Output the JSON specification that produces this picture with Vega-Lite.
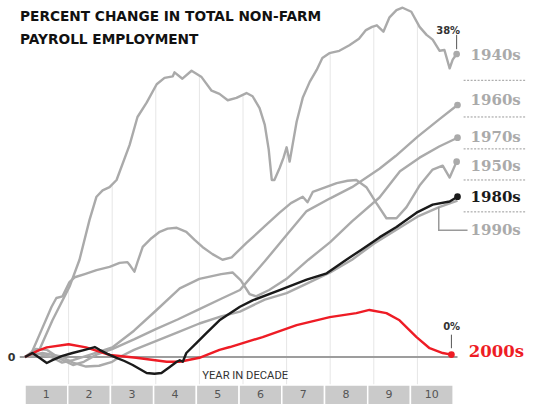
{
"$schema": "https://vega.github.io/schema/vega-lite/v6.json",
"width": 436, "height": 404,
"autosize": {"type": "none"},
"padding": {"left": 25, "right": 72, "top": 0, "bottom": 0},
"background": "white",
"config": {"view": {"stroke": null}},
"title": {"text": ["PERCENT CHANGE IN TOTAL NON-FARM", "PAYROLL EMPLOYMENT"], "anchor": "start", "frame": "group", "orient": "top", "baseline": "alphabetic", "offset": -57.5, "dx": -5, "lineHeight": 22.5, "font": "DejaVu Sans", "fontSize": 13.7, "fontWeight": "bold", "color": "#111111"},
"datasets": {
"lines": [
{"d":"1940s","t":0,"v":0},{"d":"1940s","t":0.33,"v":0.9},{"d":"1940s","t":0.63,"v":4.6},{"d":"1940s","t":1.02,"v":8.8},{"d":"1940s","t":1.25,"v":12.2},{"d":"1940s","t":1.48,"v":17.2},{"d":"1940s","t":1.64,"v":20.1},{"d":"1940s","t":1.78,"v":20.9},{"d":"1940s","t":1.94,"v":21.3},{"d":"1940s","t":2.1,"v":22.2},{"d":"1940s","t":2.4,"v":26.6},{"d":"1940s","t":2.58,"v":30.1},{"d":"1940s","t":2.79,"v":31.9},{"d":"1940s","t":3.02,"v":34.2},{"d":"1940s","t":3.2,"v":35.0},{"d":"1940s","t":3.39,"v":35.2},{"d":"1940s","t":3.43,"v":35.7},{"d":"1940s","t":3.61,"v":34.9},{"d":"1940s","t":3.82,"v":35.9},{"d":"1940s","t":4.05,"v":35.1},{"d":"1940s","t":4.28,"v":33.4},{"d":"1940s","t":4.46,"v":33.0},{"d":"1940s","t":4.65,"v":32.2},{"d":"1940s","t":4.85,"v":32.5},{"d":"1940s","t":5.08,"v":33.1},{"d":"1940s","t":5.22,"v":32.7},{"d":"1940s","t":5.38,"v":31.2},{"d":"1940s","t":5.5,"v":29.1},{"d":"1940s","t":5.59,"v":26.0},{"d":"1940s","t":5.66,"v":22.2},{"d":"1940s","t":5.72,"v":22.2},{"d":"1940s","t":5.84,"v":23.7},{"d":"1940s","t":5.93,"v":25.0},{"d":"1940s","t":6.0,"v":26.3},{"d":"1940s","t":6.07,"v":24.5},{"d":"1940s","t":6.23,"v":29.5},{"d":"1940s","t":6.37,"v":32.5},{"d":"1940s","t":6.53,"v":34.5},{"d":"1940s","t":6.69,"v":36.0},{"d":"1940s","t":6.82,"v":37.5},{"d":"1940s","t":6.98,"v":38.1},{"d":"1940s","t":7.21,"v":38.4},{"d":"1940s","t":7.44,"v":39.1},{"d":"1940s","t":7.66,"v":39.9},{"d":"1940s","t":7.82,"v":41.0},{"d":"1940s","t":7.96,"v":41.4},{"d":"1940s","t":8.07,"v":41.6},{"d":"1940s","t":8.22,"v":40.8},{"d":"1940s","t":8.36,"v":42.6},{"d":"1940s","t":8.52,"v":43.5},{"d":"1940s","t":8.66,"v":43.8},{"d":"1940s","t":8.86,"v":43.3},{"d":"1940s","t":9.05,"v":41.4},{"d":"1940s","t":9.21,"v":40.4},{"d":"1940s","t":9.35,"v":39.8},{"d":"1940s","t":9.51,"v":38.4},{"d":"1940s","t":9.62,"v":38.5},{"d":"1940s","t":9.74,"v":36.2},{"d":"1940s","t":9.81,"v":37.3},{"d":"1940s","t":9.9,"v":38.0},
{"d":"1950s","t":0,"v":0},{"d":"1950s","t":0.15,"v":0.5},{"d":"1950s","t":0.38,"v":3.4},{"d":"1950s","t":0.61,"v":6.3},{"d":"1950s","t":0.72,"v":7.4},{"d":"1950s","t":0.86,"v":7.6},{"d":"1950s","t":1.02,"v":9.4},{"d":"1950s","t":1.14,"v":10.0},{"d":"1950s","t":1.37,"v":10.4},{"d":"1950s","t":1.64,"v":10.9},{"d":"1950s","t":1.94,"v":11.3},{"d":"1950s","t":2.17,"v":11.8},{"d":"1950s","t":2.35,"v":11.9},{"d":"1950s","t":2.42,"v":11.4},{"d":"1950s","t":2.51,"v":10.7},{"d":"1950s","t":2.58,"v":11.9},{"d":"1950s","t":2.7,"v":13.8},{"d":"1950s","t":2.9,"v":14.9},{"d":"1950s","t":3.09,"v":15.7},{"d":"1950s","t":3.27,"v":16.1},{"d":"1950s","t":3.48,"v":16.2},{"d":"1950s","t":3.7,"v":15.7},{"d":"1950s","t":3.89,"v":14.7},{"d":"1950s","t":4.07,"v":13.8},{"d":"1950s","t":4.3,"v":12.9},{"d":"1950s","t":4.53,"v":12.2},{"d":"1950s","t":4.74,"v":12.5},{"d":"1950s","t":5.08,"v":14.3},{"d":"1950s","t":5.5,"v":16.4},{"d":"1950s","t":5.84,"v":18.1},{"d":"1950s","t":6.1,"v":19.3},{"d":"1950s","t":6.37,"v":20.1},{"d":"1950s","t":6.48,"v":19.4},{"d":"1950s","t":6.6,"v":20.7},{"d":"1950s","t":6.9,"v":21.3},{"d":"1950s","t":7.15,"v":21.8},{"d":"1950s","t":7.4,"v":22.1},{"d":"1950s","t":7.6,"v":22.2},{"d":"1950s","t":7.83,"v":21.3},{"d":"1950s","t":8.06,"v":19.3},{"d":"1950s","t":8.29,"v":17.4},{"d":"1950s","t":8.52,"v":17.4},{"d":"1950s","t":8.75,"v":18.8},{"d":"1950s","t":9.05,"v":21.5},{"d":"1950s","t":9.35,"v":23.5},{"d":"1950s","t":9.58,"v":24.0},{"d":"1950s","t":9.74,"v":22.5},{"d":"1950s","t":9.9,"v":24.5},
{"d":"1960s","t":0,"v":0},{"d":"1960s","t":0.25,"v":1.0},{"d":"1960s","t":0.5,"v":0.9},{"d":"1960s","t":0.8,"v":-0.2},{"d":"1960s","t":1.1,"v":-1.0},{"d":"1960s","t":1.35,"v":-0.6},{"d":"1960s","t":1.64,"v":0.3},{"d":"1960s","t":2.0,"v":1.0},{"d":"1960s","t":2.5,"v":2.2},{"d":"1960s","t":3.0,"v":3.5},{"d":"1960s","t":3.5,"v":4.7},{"d":"1960s","t":4.0,"v":6.0},{"d":"1960s","t":4.5,"v":7.3},{"d":"1960s","t":4.93,"v":8.4},{"d":"1960s","t":5.15,"v":9.8},{"d":"1960s","t":5.5,"v":12.0},{"d":"1960s","t":6.0,"v":15.3},{"d":"1960s","t":6.46,"v":18.3},{"d":"1960s","t":7.0,"v":19.9},{"d":"1960s","t":7.5,"v":21.3},{"d":"1960s","t":8.13,"v":23.6},{"d":"1960s","t":8.5,"v":25.2},{"d":"1960s","t":9.0,"v":27.6},{"d":"1960s","t":9.5,"v":29.8},{"d":"1960s","t":9.92,"v":31.6},
{"d":"1970s","t":0,"v":0},{"d":"1970s","t":0.3,"v":0.4},{"d":"1970s","t":0.6,"v":0.0},{"d":"1970s","t":0.85,"v":-0.7},{"d":"1970s","t":1.1,"v":-0.4},{"d":"1970s","t":1.5,"v":0.3},{"d":"1970s","t":2.0,"v":1.2},{"d":"1970s","t":2.5,"v":3.3},{"d":"1970s","t":3.0,"v":5.8},{"d":"1970s","t":3.55,"v":8.6},{"d":"1970s","t":4.0,"v":9.8},{"d":"1970s","t":4.5,"v":10.4},{"d":"1970s","t":4.76,"v":10.6},{"d":"1970s","t":4.95,"v":9.6},{"d":"1970s","t":5.15,"v":7.9},{"d":"1970s","t":5.3,"v":7.6},{"d":"1970s","t":5.6,"v":8.4},{"d":"1970s","t":6.0,"v":9.8},{"d":"1970s","t":6.5,"v":12.2},{"d":"1970s","t":7.0,"v":14.4},{"d":"1970s","t":7.5,"v":17.0},{"d":"1970s","t":8.13,"v":20.0},{"d":"1970s","t":8.6,"v":23.3},{"d":"1970s","t":9.05,"v":25.0},{"d":"1970s","t":9.5,"v":26.4},{"d":"1970s","t":9.92,"v":27.5},
{"d":"1990s","t":0,"v":0},{"d":"1990s","t":0.4,"v":0.5},{"d":"1990s","t":0.8,"v":0.1},{"d":"1990s","t":1.1,"v":-0.7},{"d":"1990s","t":1.4,"v":-1.2},{"d":"1990s","t":1.7,"v":-1.1},{"d":"1990s","t":2.0,"v":-0.6},{"d":"1990s","t":2.17,"v":0.0},{"d":"1990s","t":2.5,"v":0.9},{"d":"1990s","t":3.0,"v":2.0},{"d":"1990s","t":3.5,"v":3.1},{"d":"1990s","t":4.0,"v":4.2},{"d":"1990s","t":4.5,"v":5.1},{"d":"1990s","t":4.93,"v":5.7},{"d":"1990s","t":5.5,"v":7.2},{"d":"1990s","t":6.0,"v":8.0},{"d":"1990s","t":6.5,"v":9.3},{"d":"1990s","t":7.0,"v":10.6},{"d":"1990s","t":7.5,"v":12.2},{"d":"1990s","t":8.0,"v":14.2},{"d":"1990s","t":8.5,"v":15.9},{"d":"1990s","t":9.0,"v":17.6},{"d":"1990s","t":9.5,"v":18.8},{"d":"1990s","t":9.92,"v":19.6},
{"d":"2000s","t":0,"v":0},{"d":"2000s","t":0.3,"v":0.8},{"d":"2000s","t":0.5,"v":1.2},{"d":"2000s","t":1.0,"v":1.6},{"d":"2000s","t":1.4,"v":1.2},{"d":"2000s","t":1.95,"v":0.25},{"d":"2000s","t":2.55,"v":-0.1},{"d":"2000s","t":3.25,"v":-0.6},{"d":"2000s","t":3.55,"v":-0.6},{"d":"2000s","t":4.0,"v":-0.1},{"d":"2000s","t":4.46,"v":0.9},{"d":"2000s","t":4.7,"v":1.25},{"d":"2000s","t":5.45,"v":2.5},{"d":"2000s","t":6.23,"v":4.0},{"d":"2000s","t":6.99,"v":5.0},{"d":"2000s","t":7.6,"v":5.5},{"d":"2000s","t":7.9,"v":5.9},{"d":"2000s","t":8.29,"v":5.5},{"d":"2000s","t":8.59,"v":4.6},{"d":"2000s","t":8.98,"v":2.5},{"d":"2000s","t":9.28,"v":1.1},{"d":"2000s","t":9.58,"v":0.5},{"d":"2000s","t":9.78,"v":0.3},
{"d":"1980s","t":0,"v":0},{"d":"1980s","t":0.17,"v":0.5},{"d":"1980s","t":0.33,"v":-0.1},{"d":"1980s","t":0.5,"v":-0.75},{"d":"1980s","t":0.63,"v":-0.4},{"d":"1980s","t":0.84,"v":0.1},{"d":"1980s","t":1.09,"v":0.5},{"d":"1980s","t":1.37,"v":0.9},{"d":"1980s","t":1.6,"v":1.25},{"d":"1980s","t":1.71,"v":0.9},{"d":"1980s","t":1.89,"v":0.4},{"d":"1980s","t":2.1,"v":-0.1},{"d":"1980s","t":2.28,"v":-0.5},{"d":"1980s","t":2.47,"v":-1.0},{"d":"1980s","t":2.63,"v":-1.5},{"d":"1980s","t":2.79,"v":-2.0},{"d":"1980s","t":2.97,"v":-2.1},{"d":"1980s","t":3.13,"v":-2.0},{"d":"1980s","t":3.32,"v":-1.25},{"d":"1980s","t":3.48,"v":-0.6},{"d":"1980s","t":3.55,"v":-0.4},{"d":"1980s","t":3.62,"v":-0.6},{"d":"1980s","t":3.7,"v":0.5},{"d":"1980s","t":3.93,"v":1.75},{"d":"1980s","t":4.16,"v":3.0},{"d":"1980s","t":4.46,"v":4.6},{"d":"1980s","t":4.93,"v":6.3},{"d":"1980s","t":5.22,"v":7.1},{"d":"1980s","t":5.84,"v":8.4},{"d":"1980s","t":6.46,"v":9.7},{"d":"1980s","t":6.92,"v":10.5},{"d":"1980s","t":7.37,"v":12.2},{"d":"1980s","t":7.7,"v":13.4},{"d":"1980s","t":8.13,"v":15.0},{"d":"1980s","t":8.52,"v":16.3},{"d":"1980s","t":8.98,"v":18.1},{"d":"1980s","t":9.35,"v":19.1},{"d":"1980s","t":9.74,"v":19.5},{"d":"1980s","t":9.92,"v":20.1}
],
"ends": [
{"d":"1940s","t":9.9,"v":38.0},{"d":"1950s","t":9.9,"v":24.5},{"d":"1960s","t":9.92,"v":31.6},{"d":"1970s","t":9.92,"v":27.5},{"d":"1980s","t":9.92,"v":20.1},{"d":"2000s","t":9.78,"v":0.3}
],
"labels": [
{"d":"1940s","t":10.22,"v":37.9,"s":15},{"d":"1960s","t":10.22,"v":32.2,"s":15},{"d":"1970s","t":10.22,"v":27.6,"s":15},{"d":"1950s","t":10.22,"v":24.0,"s":15},{"d":"1980s","t":10.22,"v":20.1,"s":15},{"d":"1990s","t":10.22,"v":15.9,"s":15},{"d":"2000s","t":10.18,"v":0.6,"s":16.5}
],
"seps": [
{"t":10.06,"t2":11.48,"v":34.7},{"t":10.06,"t2":11.48,"v":30.1},{"t":10.06,"t2":11.48,"v":26.1},{"t":10.06,"t2":11.48,"v":22.2},{"t":10.06,"t2":11.48,"v":18.2}
],
"grid": [
{"t":1,"v":-3.5,"v2":9.3},{"t":2,"v":-3.5,"v2":21.6},{"t":3,"v":-3.5,"v2":34.0},{"t":4,"v":-3.5,"v2":35.3},{"t":5,"v":-3.5,"v2":32.9},{"t":6,"v":-3.5,"v2":25.5},{"t":7,"v":-3.5,"v2":38.1},{"t":8,"v":-3.5,"v2":41.5},{"t":9,"v":-3.5,"v2":41.6}
],
"zero": [{"t":-0.12,"t2":9.92,"v":0}],
"ticks": [
{"t":9.9,"v":40.4,"v2":38.6},{"t":9.78,"v":2.8,"v2":1.1}
],
"callouts": [
{"t":9.98,"v":40.9,"txt":"38%"},{"t":9.98,"v":3.7,"txt":"0%"}
],
"conn": [
{"i":1,"t":9.49,"v":18.8},{"i":2,"t":9.49,"v":15.9},{"i":3,"t":10.15,"v":15.9}
],
"boxes": [
{"n":"1","t":0.0,"t2":0.98,"m":0.49},{"n":"2","t":0.98,"t2":1.96,"m":1.47},{"n":"3","t":1.96,"t2":2.95,"m":2.455},{"n":"4","t":2.95,"t2":3.93,"m":3.44},{"n":"5","t":3.93,"t2":4.91,"m":4.42},{"n":"6","t":4.91,"t2":5.89,"m":5.4},{"n":"7","t":5.89,"t2":6.87,"m":6.38},{"n":"8","t":6.87,"t2":7.86,"m":7.365},{"n":"9","t":7.86,"t2":8.84,"m":8.35},{"n":"10","t":8.84,"t2":9.82,"m":9.33}
],
"xt": [{"t":5.05,"v":-2.4,"txt":"YEAR IN DECADE"}]
},
"layer": [
{"data": {"name": "grid"}, "mark": {"type": "rule", "color": "#e6e6e6", "strokeWidth": 1},
 "encoding": {"x": {"field": "t", "type": "quantitative", "scale": {"domain": [0, 10], "nice": false, "zero": false}, "axis": null},
  "y": {"field": "v", "type": "quantitative", "scale": {"domain": [-5.894, 44.77], "nice": false, "zero": false},
    "axis": {"values": [0], "domain": false, "ticks": false, "grid": false, "title": null, "labelFont": "DejaVu Sans", "labelFontWeight": "bold", "labelFontSize": 11, "labelColor": "#333333", "labelPadding": 10}},
  "y2": {"field": "v2"}}},
{"data": {"name": "boxes"}, "mark": {"type": "rect", "color": "#cacaca", "stroke": "white", "strokeWidth": 1.5},
 "encoding": {"x": {"field": "t", "type": "quantitative"}, "x2": {"field": "t2"}, "y": {"datum": -3.5, "type": "quantitative"}, "y2": {"datum": -6.2}}},
{"data": {"name": "boxes"}, "mark": {"type": "text", "font": "DejaVu Sans", "fontSize": 11, "color": "#555555", "baseline": "middle", "align": "center"},
 "encoding": {"x": {"field": "m", "type": "quantitative"}, "y": {"datum": -4.75, "type": "quantitative"}, "text": {"field": "n"}}},
{"data": {"name": "xt"}, "mark": {"type": "text", "font": "Liberation Sans Narrow, Roboto, sans-serif", "fontSize": 11.2, "color": "#333333", "baseline": "middle", "align": "center"},
 "encoding": {"x": {"field": "t", "type": "quantitative"}, "y": {"field": "v", "type": "quantitative"}, "text": {"field": "txt"}}},
{"data": {"name": "zero"}, "mark": {"type": "rule", "color": "#9d9d9d", "strokeWidth": 2},
 "encoding": {"x": {"field": "t", "type": "quantitative"}, "x2": {"field": "t2"}, "y": {"field": "v", "type": "quantitative"}}},
{"data": {"name": "lines"}, "transform": [{"filter": "datum.d !== '1980s' && datum.d !== '2000s'"}],
 "mark": {"type": "line", "strokeWidth": 2.4, "strokeJoin": "round"},
 "encoding": {"x": {"field": "t", "type": "quantitative"}, "y": {"field": "v", "type": "quantitative"},
  "color": {"field": "d", "type": "nominal", "legend": null, "scale": {"domain": ["1940s","1950s","1960s","1970s","1980s","1990s","2000s"], "range": ["#aaaaaa","#aaaaaa","#aaaaaa","#aaaaaa","#1a1a1a","#aaaaaa","#ee1c25"]}}}},
{"data": {"name": "lines"}, "transform": [{"filter": "datum.d === '2000s'"}],
 "mark": {"type": "line", "strokeWidth": 2.4, "strokeJoin": "round"},
 "encoding": {"x": {"field": "t", "type": "quantitative"}, "y": {"field": "v", "type": "quantitative"}, "color": {"field": "d", "type": "nominal", "legend": null}}},
{"data": {"name": "lines"}, "transform": [{"filter": "datum.d === '1980s'"}],
 "mark": {"type": "line", "strokeWidth": 2.4, "strokeJoin": "round"},
 "encoding": {"x": {"field": "t", "type": "quantitative"}, "y": {"field": "v", "type": "quantitative"}, "color": {"field": "d", "type": "nominal", "legend": null}}},
{"data": {"name": "ends"}, "mark": {"type": "point", "filled": true, "size": 45, "opacity": 1},
 "encoding": {"x": {"field": "t", "type": "quantitative"}, "y": {"field": "v", "type": "quantitative"}, "color": {"field": "d", "type": "nominal", "legend": null}}},
{"data": {"name": "seps"}, "mark": {"type": "rule", "color": "#9a9a9a", "strokeWidth": 1, "strokeDash": [2, 1.5]},
 "encoding": {"x": {"field": "t", "type": "quantitative"}, "x2": {"field": "t2"}, "y": {"field": "v", "type": "quantitative"}}},
{"data": {"name": "ticks"}, "mark": {"type": "rule", "color": "#555555", "strokeWidth": 1},
 "encoding": {"x": {"field": "t", "type": "quantitative"}, "y": {"field": "v", "type": "quantitative"}, "y2": {"field": "v2"}}},
{"data": {"name": "conn"}, "mark": {"type": "line", "color": "#9a9a9a", "strokeWidth": 1.5},
 "encoding": {"x": {"field": "t", "type": "quantitative"}, "y": {"field": "v", "type": "quantitative"}, "order": {"field": "i"}}},
{"data": {"name": "callouts"}, "mark": {"type": "text", "font": "DejaVu Sans", "fontSize": 10, "fontWeight": "bold", "color": "#333333", "align": "right", "baseline": "middle"},
 "encoding": {"x": {"field": "t", "type": "quantitative"}, "y": {"field": "v", "type": "quantitative"}, "text": {"field": "txt"}}},
{"data": {"name": "labels"}, "mark": {"type": "text", "font": "DejaVu Serif", "fontWeight": "bold", "align": "left", "baseline": "middle"},
 "encoding": {"x": {"field": "t", "type": "quantitative"}, "y": {"field": "v", "type": "quantitative"}, "text": {"field": "d"},
  "size": {"field": "s", "type": "quantitative", "scale": null},
  "color": {"field": "d", "type": "nominal", "legend": null}}}
]
}
